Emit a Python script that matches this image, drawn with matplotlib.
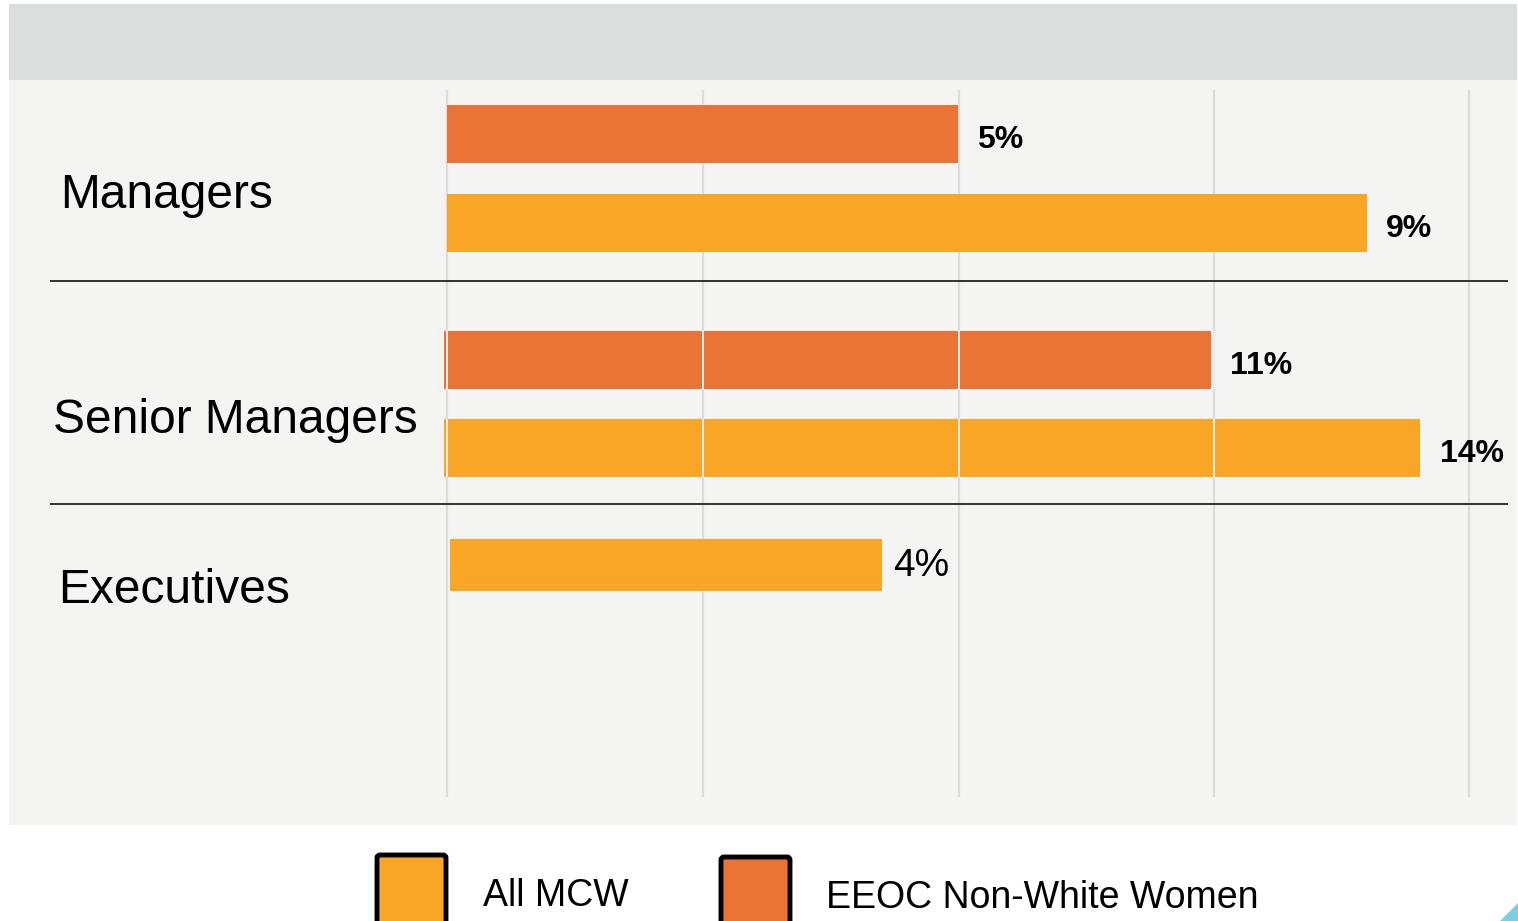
import numpy as np
import matplotlib
matplotlib.use("Agg")
import matplotlib.pyplot as plt
from matplotlib.patches import Rectangle, FancyBboxPatch, Polygon

plt.rcParams['font.family'] = ['Liberation Sans', 'DejaVu Sans']

# data
groups = ['Managers', 'Senior Managers', 'Executives']
series = ['EEOC Non-White Women', 'All MCW']
eeoc = [5, 11, None]
mcw = [9, 14, 4]
value_labels_bold = [True, True, False]

RED = '#e97436'
YELLOW = '#f9a626'
PANEL = '#f4f4f2'
HEADER = '#dcdedd'
GRID = '#dcdcdc'

W, H = 1518, 921
fig = plt.figure(figsize=(W / 100, H / 100), dpi=100)


def rect(x0, y0, x1, y1):
    # pixel box (top-left origin) -> figure fraction
    return [x0 / W, 1 - y1 / H, (x1 - x0) / W, (y1 - y0) / H]


# background layer in pixel units
bg = fig.add_axes([0, 0, 1, 1])
bg.set_xlim(0, W)
bg.set_ylim(H, 0)
bg.axis('off')
bg.add_patch(Rectangle((9, 4), 1508, 76, color=HEADER, lw=0))
bg.add_patch(Rectangle((9, 80), 1508, 745, color=PANEL, lw=0))
grid_x = [447, 703, 959, 1214, 1469]
bg.vlines(grid_x, 90, 797, color=GRID, lw=1.6)
bg.hlines([281, 504], 50, 1508, color='#111111', lw=1.2)

label_pos = [(60, 208), (53, 433), (58, 603)]
for name, (lx, ly) in zip(groups, label_pos):
    bg.text(lx, ly, name, fontsize=34.5, va='baseline', ha='left', color='black')

# one axes per group, each with its own x range
layout = [
    dict(px=(447, 1469), py=(89.5, 267.5), xmax=10.0, rows=2, h=0.65),
    dict(px=(444, 1469), py=(316, 492), xmax=14.7, rows=2, h=0.66),
    dict(px=(450, 1469), py=(521, 609), xmax=9.43, rows=1, h=0.59),
]

for i, lay in enumerate(layout):
    ax = fig.add_axes(rect(lay['px'][0], lay['py'][0], lay['px'][1], lay['py'][1]))
    ax.patch.set_alpha(0)
    ax.set_xlim(0, lay['xmax'])
    ax.set_ylim(lay['rows'] - 0.5, -0.5)
    ax.axis('off')
    vals = [(eeoc[i], RED), (mcw[i], YELLOW)]
    vals = [v for v in vals if v[0] is not None]
    for row, (v, c) in enumerate(vals):
        ax.barh(row, v, height=lay['h'], color=c, lw=0)
        if value_labels_bold[i]:
            ax.annotate(f'{v}%', (v, row), xytext=(14, -4), textcoords='offset points',
                        va='center', ha='left', fontsize=23, fontweight='bold')
        else:
            ax.annotate(f'{v}%', (v, row), xytext=(8, -0.5), textcoords='offset points',
                        va='center', ha='left', fontsize=28)

# faint gridlines showing through the senior manager bars
top = fig.add_axes([0, 0, 1, 1])
top.set_xlim(0, W)
top.set_ylim(H, 0)
top.axis('off')
top.patch.set_alpha(0)
top.vlines(grid_x[:4], 331, 389, color='#eeeeee', lw=1.4)
top.vlines(grid_x[:4], 419, 477, color='#eeeeee', lw=1.4)

# legend
for (x0, y0, w, h), c, txt, tx, ty in [
    ((377, 855, 69, 70), YELLOW, 'All MCW', 483, 896),
    ((721, 857, 69, 70), RED, 'EEOC Non-White Women', 826, 898),
]:
    bg.add_patch(FancyBboxPatch((x0, y0), w, h, boxstyle='round,pad=0,rounding_size=3',
                                fc=c, ec='black', lw=3.5))
    bg.text(tx, ty, txt, fontsize=27, va='center', ha='left')

bg.add_patch(Polygon([[1500, 921], [1518, 903], [1518, 921]], color='#7ccfe0', lw=0))

fig.savefig('out.png', dpi=100)
